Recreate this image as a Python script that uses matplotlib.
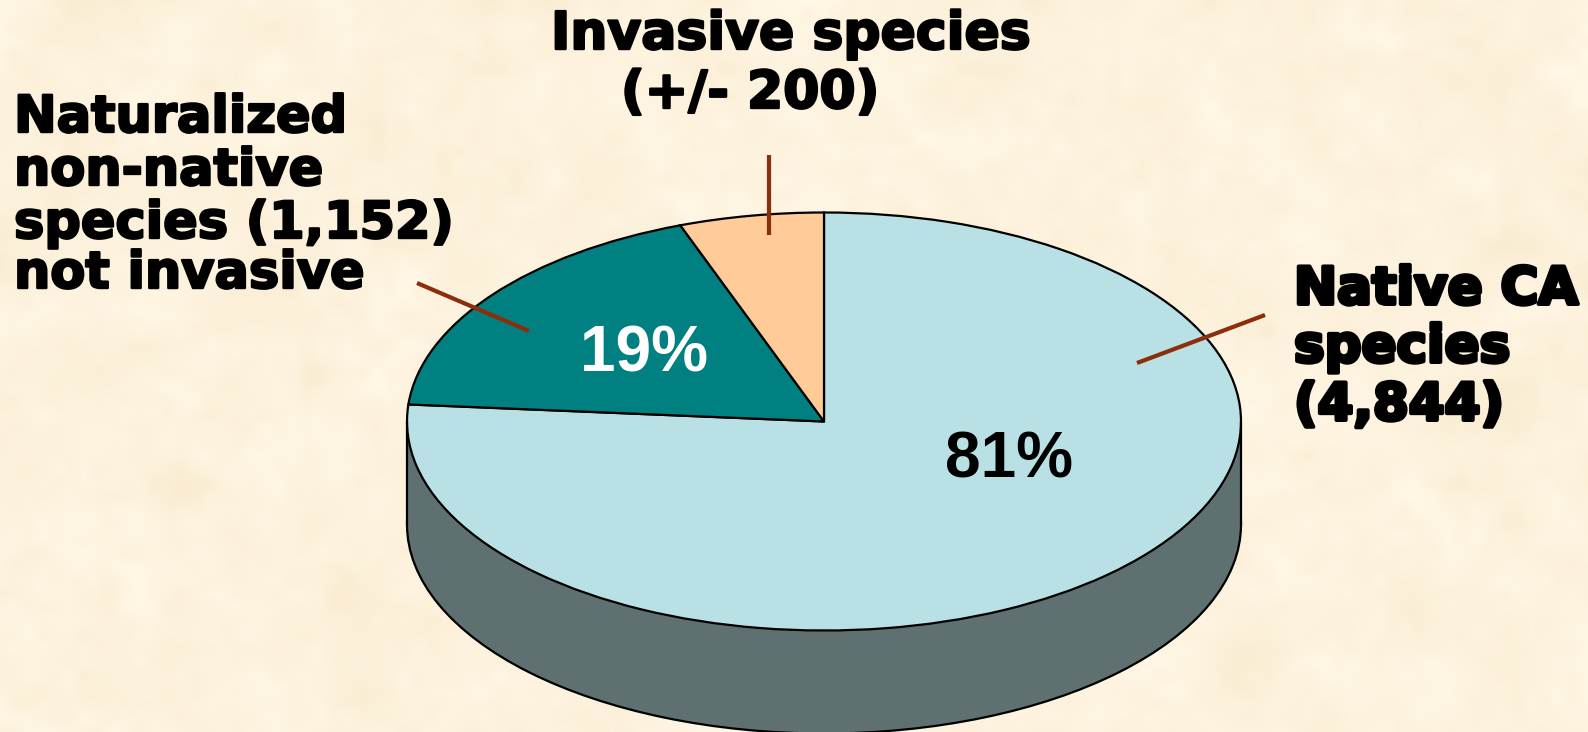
import numpy as np
import matplotlib
matplotlib.use("Agg")
import matplotlib.pyplot as plt
import matplotlib.patheffects as pe

# --- data ---
categories = ["Native CA species", "Naturalized non-native species", "Invasive species"]
drawn_shares = [76.3, 18.1, 5.6]
slice_colors = ["#B9E0E4", "#008080", "#FFCC99"]
percent_labels = ["81%", "19%"]
label_lines_native = ["Native CA", "species", "(4,844)"]
label_lines_natural = ["Naturalized", "non-native", "species (1,152)", "not invasive"]
label_lines_invasive = ["Invasive species", "(+/- 200)"]

W, H = 1588, 732
CX, CY, RX, RY, DEPTH = 824, 421.5, 417, 209, 103
SIDE = "#5F7071"
BG = "#FDF1DA"
LEAD = "#8B2E0B"
px = 72 / 100  # points per pixel at dpi 100

fig = plt.figure(figsize=(W / 100, H / 100), dpi=100, facecolor=BG)

# subtle mottled paper background (decoration only, not data)
bg = fig.add_axes([0, 0, 1, 1], zorder=0)
rng = np.random.default_rng(3)
tex = np.zeros((H, W))
yy, xx = np.linspace(0, 1, H), np.linspace(0, 1, W)
for cell, amp in [(90, 1.5), (35, 1.6), (14, 1.1)]:
    ny, nx = H // cell + 2, W // cell + 2
    coarse = rng.normal(0, amp, (ny, nx))
    rows = np.array([np.interp(xx, np.linspace(0, 1, nx), r) for r in coarse])
    tex += np.array([np.interp(yy, np.linspace(0, 1, ny), c) for c in rows.T]).T
base = np.array([253, 242, 221], float)
tint = np.array([0.6, 1.0, 1.9])
img = np.clip(base[None, None, :] + tex[:, :, None] * tint[None, None, :], 0, 255) / 255
bg.imshow(img, aspect="auto", extent=(0, W, H, 0), interpolation="bilinear")
bg.axis("off")

# elliptical pie: axes box equals the ellipse's bounding box
ax = fig.add_axes([(CX - RX) / W, 1 - (CY + RY) / H, 2 * RX / W, 2 * RY / H], zorder=1)
ax.patch.set_alpha(0)
edge = dict(edgecolor="black", linewidth=1.6, clip_on=False)
d = DEPTH / RY

ax.pie([1], colors=[SIDE], startangle=90, center=(0, -d), radius=1, wedgeprops=edge)
ax.fill_between([-1, 1], -d, 0, color=SIDE, linewidth=0, clip_on=False)
ax.vlines([-1, 1], -d, 0, colors="black", linewidth=1.6, clip_on=False)
ax.pie(drawn_shares, colors=slice_colors, startangle=90, counterclock=False,
       center=(0, 0), radius=1, wedgeprops=edge)
ax.set_aspect("auto")
ax.set_xlim(-1, 1)
ax.set_ylim(-1, 1)
ax.axis("off")

# overlay in pixel coordinates
ov = fig.add_axes([0, 0, 1, 1], zorder=2)
ov.set_xlim(0, W)
ov.set_ylim(H, 0)
ov.axis("off")
ov.patch.set_alpha(0)

for (x0, y0, x1, y1) in [(417, 283, 529, 331), (769, 155, 769, 235), (1137, 363, 1265, 315)]:
    ov.plot([x0, x1], [y0, y1], color=LEAD, lw=4.2 * px, solid_capstyle="butt")

def bold(x, y, s, size_px, stroke_px, ha="left", color="black", family="DejaVu Sans"):
    t = ov.text(x, y, s, fontsize=size_px * px, family=family, weight="bold",
                ha=ha, va="baseline", color=color)
    if stroke_px:
        t.set_path_effects([pe.withStroke(linewidth=stroke_px * px, foreground=color)])
    return t

for s, y in zip(label_lines_natural, [132, 185, 238, 288]):
    bold(14, y, s, 51, 2.4)
bold(551, 49, label_lines_invasive[0], 52, 2.4)
bold(621, 108, label_lines_invasive[1], 52, 2.4)
for s, y in zip(label_lines_native, [304, 362, 420]):
    bold(1294, y, s, 51.5, 4.0)

bold(1009, 478, percent_labels[0], 64, 0, ha="center", family="Liberation Sans")
bold(644, 372, percent_labels[1], 64, 0, ha="center", color="white", family="Liberation Sans")

fig.savefig("out.png", dpi=100, facecolor=BG)
